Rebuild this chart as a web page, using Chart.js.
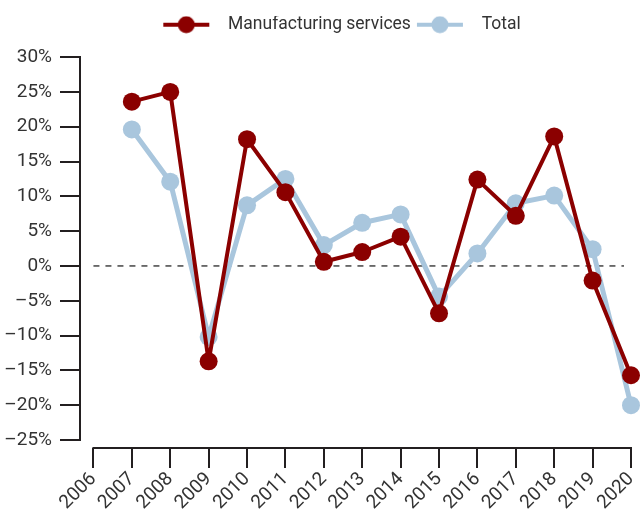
<!DOCTYPE html>
<html>
<head>
<meta charset="utf-8">
<script src="https://cdn.jsdelivr.net/npm/chart.js@4/dist/chart.umd.min.js"></script>
<style>
  html, body { margin: 0; padding: 0; background: #fff; }
  #wrap { width: 640px; height: 510px; }
</style>
</head>
<body>
<div id="wrap"><canvas id="chart" width="640" height="510"></canvas></div>
<script>
// data (annual % change)
const years = [2007, 2008, 2009, 2010, 2011, 2012, 2013, 2014, 2015, 2016, 2017, 2018, 2019, 2020];
const manufacturing = [23.6, 25.0, -13.7, 18.2, 10.6, 0.6, 2.0, 4.2, -6.8, 12.4, 7.2, 18.6, -2.1, -15.7];
const total = [19.6, 12.1, -10.2, 8.7, 12.5, 3.0, 6.2, 7.4, -4.4, 1.8, 9.0, 10.1, 2.4, -20.0];
const seriesNames = ['Manufacturing services', 'Total'];
const xTicks = [2006, 2007, 2008, 2009, 2010, 2011, 2012, 2013, 2014, 2015, 2016, 2017, 2018, 2019, 2020];
const yTicks = [-25, -20, -15, -10, -5, 0, 5, 10, 15, 20, 25, 30];

const RED = '#8b0000';
const BLUE = '#a9c6dd';
const AXIS = '#231f20';
const TEXT = '#333';
const FONT = "Roboto, 'Liberation Sans', sans-serif";

// legend marker: short line with a dot, line starts 6px in from the box edge
function legendIcon(color) {
    const c = document.createElement('canvas');
    c.width = 62; c.height = 20;
    const g = c.getContext('2d');
    g.strokeStyle = color;
    g.lineWidth = 4;
    g.beginPath(); g.moveTo(6, 10); g.lineTo(52, 10); g.stroke();
    g.fillStyle = color;
    g.beginPath(); g.arc(29, 10, 8.5, 0, Math.PI * 2); g.fill();
    return c;
}

function toPoints(vals) {
    return years.map((yr, i) => ({ x: yr, y: vals[i] }));
}

// detached axis lines and the dashed zero line
const axesPlugin = {
    id: 'axesPlugin',
    afterLayout(chart) {
        // legend sits a little right of the canvas centre in the original
        chart.legend.left += 19;
        chart.legend.right += 19;
    },
    beforeDatasetsDraw(chart) {
        const { ctx, scales: { x, y }, chartArea } = chart;
        ctx.save();
        ctx.strokeStyle = '#444';
        ctx.lineWidth = 1.5;
        ctx.setLineDash([6, 6]);
        const y0 = y.getPixelForValue(0);
        ctx.beginPath();
        ctx.moveTo(x.getPixelForValue(xTicks[0]), y0);
        ctx.lineTo(chartArea.right - 7, y0);
        ctx.stroke();
        ctx.restore();
    },
    afterDraw(chart) {
        const { ctx, scales: { x, y }, chartArea } = chart;
        ctx.save();
        ctx.strokeStyle = AXIS;
        ctx.lineWidth = 2;
        ctx.beginPath();
        ctx.moveTo(chartArea.left, y.getPixelForValue(yTicks[yTicks.length - 1]) - 1);
        ctx.lineTo(chartArea.left, y.getPixelForValue(yTicks[0]) + 1);
        ctx.stroke();
        ctx.beginPath();
        ctx.moveTo(x.getPixelForValue(xTicks[0]) - 1, chartArea.bottom);
        ctx.lineTo(x.getPixelForValue(xTicks[xTicks.length - 1]) + 1, chartArea.bottom);
        ctx.stroke();
        ctx.restore();
    }
};

new Chart(document.getElementById('chart'), {
    type: 'line',
    data: {
        datasets: [
            {
                label: seriesNames[0],
                data: toPoints(manufacturing),
                borderColor: RED,
                backgroundColor: RED,
                borderWidth: 4,
                borderJoinStyle: 'round',
                pointRadius: 9,
                pointHoverRadius: 9,
                pointBorderWidth: 0,
                clip: false
            },
            {
                label: seriesNames[1],
                data: toPoints(total),
                borderColor: BLUE,
                backgroundColor: BLUE,
                borderWidth: 5,
                borderJoinStyle: 'round',
                pointRadius: 9,
                pointHoverRadius: 9,
                pointBorderWidth: 0,
                clip: false
            }
        ]
    },
    options: {
        responsive: false,
        animation: false,
        layout: { padding: { top: 16, right: 0, left: 0, bottom: 0 } },
        plugins: {
            tooltip: { enabled: false },
            legend: {
                position: 'top',
                labels: {
                    usePointStyle: true,
                    pointStyleWidth: 62,
                    padding: 0,
                    color: TEXT,
                    font: { family: FONT, size: 17.5 },
                    generateLabels(chart) {
                        return chart.data.datasets.map((ds, i) => ({
                            text: ds.label,
                            pointStyle: legendIcon(ds.borderColor),
                            fillStyle: ds.borderColor,
                            strokeStyle: ds.borderColor,
                            lineWidth: 0,
                            fontColor: TEXT,
                            datasetIndex: i
                        }));
                    }
                }
            }
        },
        scales: {
            x: {
                type: 'linear',
                min: 2005.65,
                max: 2020,
                afterBuildTicks(scale) {
                    scale.ticks = xTicks.map(v => ({ value: v }));
                },
                afterFit(scale) {
                    scale.height = 62;
                    scale.paddingRight = 0;
                },
                border: { display: false },
                grid: {
                    drawOnChartArea: false,
                    tickLength: 20,
                    lineWidth: 2,
                    color: AXIS
                },
                ticks: {
                    minRotation: 45,
                    maxRotation: 45,
                    padding: 0,
                    color: TEXT,
                    font: { family: FONT, size: 19 },
                    callback: v => String(v)
                }
            },
            y: {
                min: -26.15,
                max: 31.95,
                afterBuildTicks(scale) {
                    scale.ticks = yTicks.map(v => ({ value: v }));
                },
                afterFit(scale) { scale.width = 80; },
                border: { display: false },
                grid: {
                    drawOnChartArea: false,
                    tickLength: 20,
                    lineWidth: 2,
                    color: AXIS
                },
                ticks: {
                    padding: 8,
                    color: TEXT,
                    font: { family: FONT, size: 19 },
                    callback: v => (v < 0 ? '\u2013' + Math.abs(v) : v) + '%'
                }
            }
        }
    },
    plugins: [axesPlugin]
});
</script>
</body>
</html>
